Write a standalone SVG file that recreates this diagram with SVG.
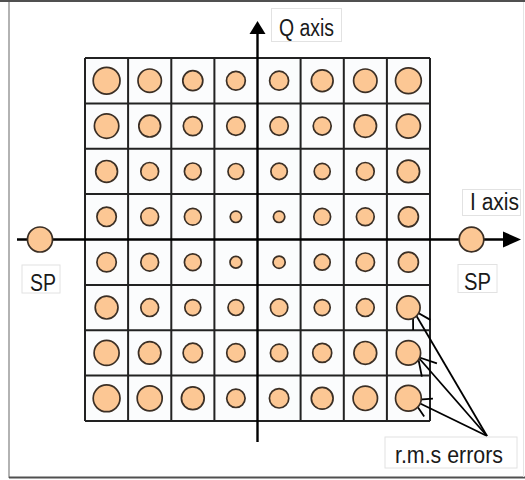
<svg xmlns="http://www.w3.org/2000/svg" width="525" height="480" viewBox="0 0 525 480">
  <style>
    .pt { fill: #fcc794; stroke: #3b2f25; stroke-width: 1.7; }
    .box { fill: #ffffff; stroke: #e2e2e2; stroke-width: 1; }
    .lbl { font-family: "Liberation Sans", Arial, sans-serif; font-size: 23px; fill: #1a1a1a; }
    .grid { fill: none; stroke: #222222; stroke-width: 2; }
    .axis { stroke: #000000; stroke-width: 2.4; fill: none; }
    .err { stroke: #000000; stroke-width: 1.8; fill: none; marker-end: url(#vhead); }
  </style>
  <defs>
    <marker id="vhead" markerUnits="userSpaceOnUse" viewBox="-22 -12 24 24" refX="0" refY="0" markerWidth="24" markerHeight="24" orient="auto">
      <path d="M-17.3,-10 L0,0 L-17.3,10" fill="none" stroke="#000" stroke-width="1.8"/>
    </marker>
  </defs>

  <!-- page and frame -->
  <rect x="0" y="0" width="525" height="480" fill="#ffffff"/>
  <line x1="0" y1="1" x2="525" y2="1" stroke="#505050" stroke-width="2"/>
  <line x1="9" y1="2" x2="9" y2="478" stroke="#9a9a9a" stroke-width="1.5"/>
  <line x1="9" y1="477.5" x2="525" y2="477.5" stroke="#505050" stroke-width="2"/>
  <line x1="523.5" y1="2" x2="523.5" y2="477" stroke="#e4e4e4" stroke-width="1"/>

  <!-- 8x8 constellation grid -->
  <g id="grid">
    <rect x="85" y="58" width="345" height="363" fill="#fbfcfd"/>
    <path class="grid" d="M85,58V421M128.1,58V421M171.3,58V421M214.4,58V421M300.6,58V421M343.8,58V421M386.9,58V421M430,58V421
      M85,58H430M85,103.4H430M85,148.8H430M85,194.1H430M85,284.9H430M85,330.3H430M85,375.6H430M85,421H430"/>
  </g>

  <!-- axes and error pointers -->
  <g id="connectors">
    <line class="axis" x1="257.5" y1="442" x2="257.5" y2="32"/>
    <path d="M257.5,21 L265.5,34 L249.5,34 Z" fill="#000"/>
    <line class="axis" x1="17" y1="239.5" x2="506" y2="239.5"/>
    <path d="M521,239.5 L503,231.5 L503,247.5 Z" fill="#000"/>
    <line class="err" x1="487" y1="436" x2="413" y2="310"/>
    <line class="err" x1="487" y1="436" x2="418" y2="357"/>
    <line class="err" x1="487" y1="436" x2="413" y2="400"/>
  </g>

  <!-- constellation points, one row per group -->
  <g id="points">
    <g id="row1">
      <circle class="pt" cx="106.6" cy="80.7" r="13.4"/>
      <circle class="pt" cx="149.7" cy="80.7" r="11.7"/>
      <circle class="pt" cx="192.8" cy="80.7" r="10"/>
      <circle class="pt" cx="235.9" cy="80.7" r="9.4"/>
      <circle class="pt" cx="279.1" cy="80.7" r="9.5"/>
      <circle class="pt" cx="322.2" cy="80.7" r="10.9"/>
      <circle class="pt" cx="365.3" cy="80.7" r="11.7"/>
      <circle class="pt" cx="408.4" cy="80.7" r="12.9"/>
    </g>
    <g id="row2">
      <circle class="pt" cx="106.6" cy="126.1" r="12.2"/>
      <circle class="pt" cx="149.7" cy="126.1" r="10.9"/>
      <circle class="pt" cx="192.8" cy="126.1" r="9.5"/>
      <circle class="pt" cx="235.9" cy="126.1" r="9.2"/>
      <circle class="pt" cx="279.1" cy="126.1" r="9.2"/>
      <circle class="pt" cx="322.2" cy="126.1" r="9"/>
      <circle class="pt" cx="365.3" cy="126.1" r="11.2"/>
      <circle class="pt" cx="408.4" cy="126.1" r="12"/>
    </g>
    <g id="row3">
      <circle class="pt" cx="106.6" cy="171.4" r="10.9"/>
      <circle class="pt" cx="149.7" cy="171.4" r="8.9"/>
      <circle class="pt" cx="192.8" cy="171.4" r="8.4"/>
      <circle class="pt" cx="235.9" cy="171.4" r="7.9"/>
      <circle class="pt" cx="279.1" cy="171.4" r="8.2"/>
      <circle class="pt" cx="322.2" cy="171.4" r="8"/>
      <circle class="pt" cx="365.3" cy="171.4" r="8.9"/>
      <circle class="pt" cx="408.4" cy="171.4" r="11.2"/>
    </g>
    <g id="row4">
      <circle class="pt" cx="106.6" cy="216.8" r="9.7"/>
      <circle class="pt" cx="149.7" cy="216.8" r="8.9"/>
      <circle class="pt" cx="192.8" cy="216.8" r="8.4"/>
      <circle class="pt" cx="235.9" cy="216.8" r="5.7"/>
      <circle class="pt" cx="279.1" cy="216.8" r="5.7"/>
      <circle class="pt" cx="322.2" cy="216.8" r="8.4"/>
      <circle class="pt" cx="365.3" cy="216.8" r="8.9"/>
      <circle class="pt" cx="408.4" cy="216.8" r="10"/>
    </g>
    <g id="row5">
      <circle class="pt" cx="106.6" cy="262.2" r="9.7"/>
      <circle class="pt" cx="149.7" cy="262.2" r="8.9"/>
      <circle class="pt" cx="192.8" cy="262.2" r="8.4"/>
      <circle class="pt" cx="235.9" cy="262.2" r="5.9"/>
      <circle class="pt" cx="279.1" cy="262.2" r="6.1"/>
      <circle class="pt" cx="322.2" cy="262.2" r="8"/>
      <circle class="pt" cx="365.3" cy="262.2" r="9.2"/>
      <circle class="pt" cx="408.4" cy="262.2" r="10"/>
    </g>
    <g id="row6">
      <circle class="pt" cx="106.6" cy="307.6" r="11.4"/>
      <circle class="pt" cx="149.7" cy="307.6" r="8.9"/>
      <circle class="pt" cx="192.8" cy="307.6" r="8"/>
      <circle class="pt" cx="235.9" cy="307.6" r="7.9"/>
      <circle class="pt" cx="279.1" cy="307.6" r="8.7"/>
      <circle class="pt" cx="322.2" cy="307.6" r="8"/>
      <circle class="pt" cx="365.3" cy="307.6" r="8.9"/>
      <circle class="pt" cx="408.4" cy="307.6" r="11.7"/>
    </g>
    <g id="row7">
      <circle class="pt" cx="106.6" cy="352.9" r="12.5"/>
      <circle class="pt" cx="149.7" cy="352.9" r="11.2"/>
      <circle class="pt" cx="192.8" cy="352.9" r="9.7"/>
      <circle class="pt" cx="235.9" cy="352.9" r="9.2"/>
      <circle class="pt" cx="279.1" cy="352.9" r="8.7"/>
      <circle class="pt" cx="322.2" cy="352.9" r="9.5"/>
      <circle class="pt" cx="365.3" cy="352.9" r="11.4"/>
      <circle class="pt" cx="408.4" cy="352.9" r="12.2"/>
    </g>
    <g id="row8">
      <circle class="pt" cx="106.6" cy="398.3" r="13.4"/>
      <circle class="pt" cx="149.7" cy="398.3" r="12.5"/>
      <circle class="pt" cx="192.8" cy="398.3" r="11.4"/>
      <circle class="pt" cx="235.9" cy="398.3" r="9.2"/>
      <circle class="pt" cx="279.1" cy="398.3" r="9.7"/>
      <circle class="pt" cx="322.2" cy="398.3" r="10.9"/>
      <circle class="pt" cx="365.3" cy="398.3" r="12.2"/>
      <circle class="pt" cx="408.4" cy="398.3" r="12.9"/>
    </g>
  </g>

  <!-- SP points on the I axis -->
  <g id="sp-left-point"><circle class="pt" cx="40" cy="239.5" r="12.5"/></g>
  <g id="sp-right-point"><circle class="pt" cx="471.5" cy="239.5" r="12.3"/></g>

  <!-- labels -->
  <g id="label-q">
    <rect class="box" x="271.5" y="8.5" width="70" height="33"/>
    <text class="lbl" x="279" y="36" textLength="55" lengthAdjust="spacingAndGlyphs">Q axis</text>
  </g>
  <g id="label-i">
    <rect class="box" x="462.5" y="189.5" width="58" height="26"/>
    <text class="lbl" x="470" y="209.5" textLength="49" lengthAdjust="spacingAndGlyphs">I axis</text>
  </g>
  <g id="label-sp-left">
    <rect class="box" x="22" y="265" width="38" height="28"/>
    <text class="lbl" x="30" y="291" textLength="26" lengthAdjust="spacingAndGlyphs">SP</text>
  </g>
  <g id="label-sp-right">
    <rect class="box" x="458" y="264.5" width="39" height="28"/>
    <text class="lbl" x="464" y="290" textLength="27" lengthAdjust="spacingAndGlyphs">SP</text>
  </g>
  <g id="label-rms">
    <rect class="box" x="385" y="437" width="132" height="31"/>
    <text class="lbl" x="395" y="463" textLength="108" lengthAdjust="spacingAndGlyphs">r.m.s errors</text>
  </g>
</svg>
